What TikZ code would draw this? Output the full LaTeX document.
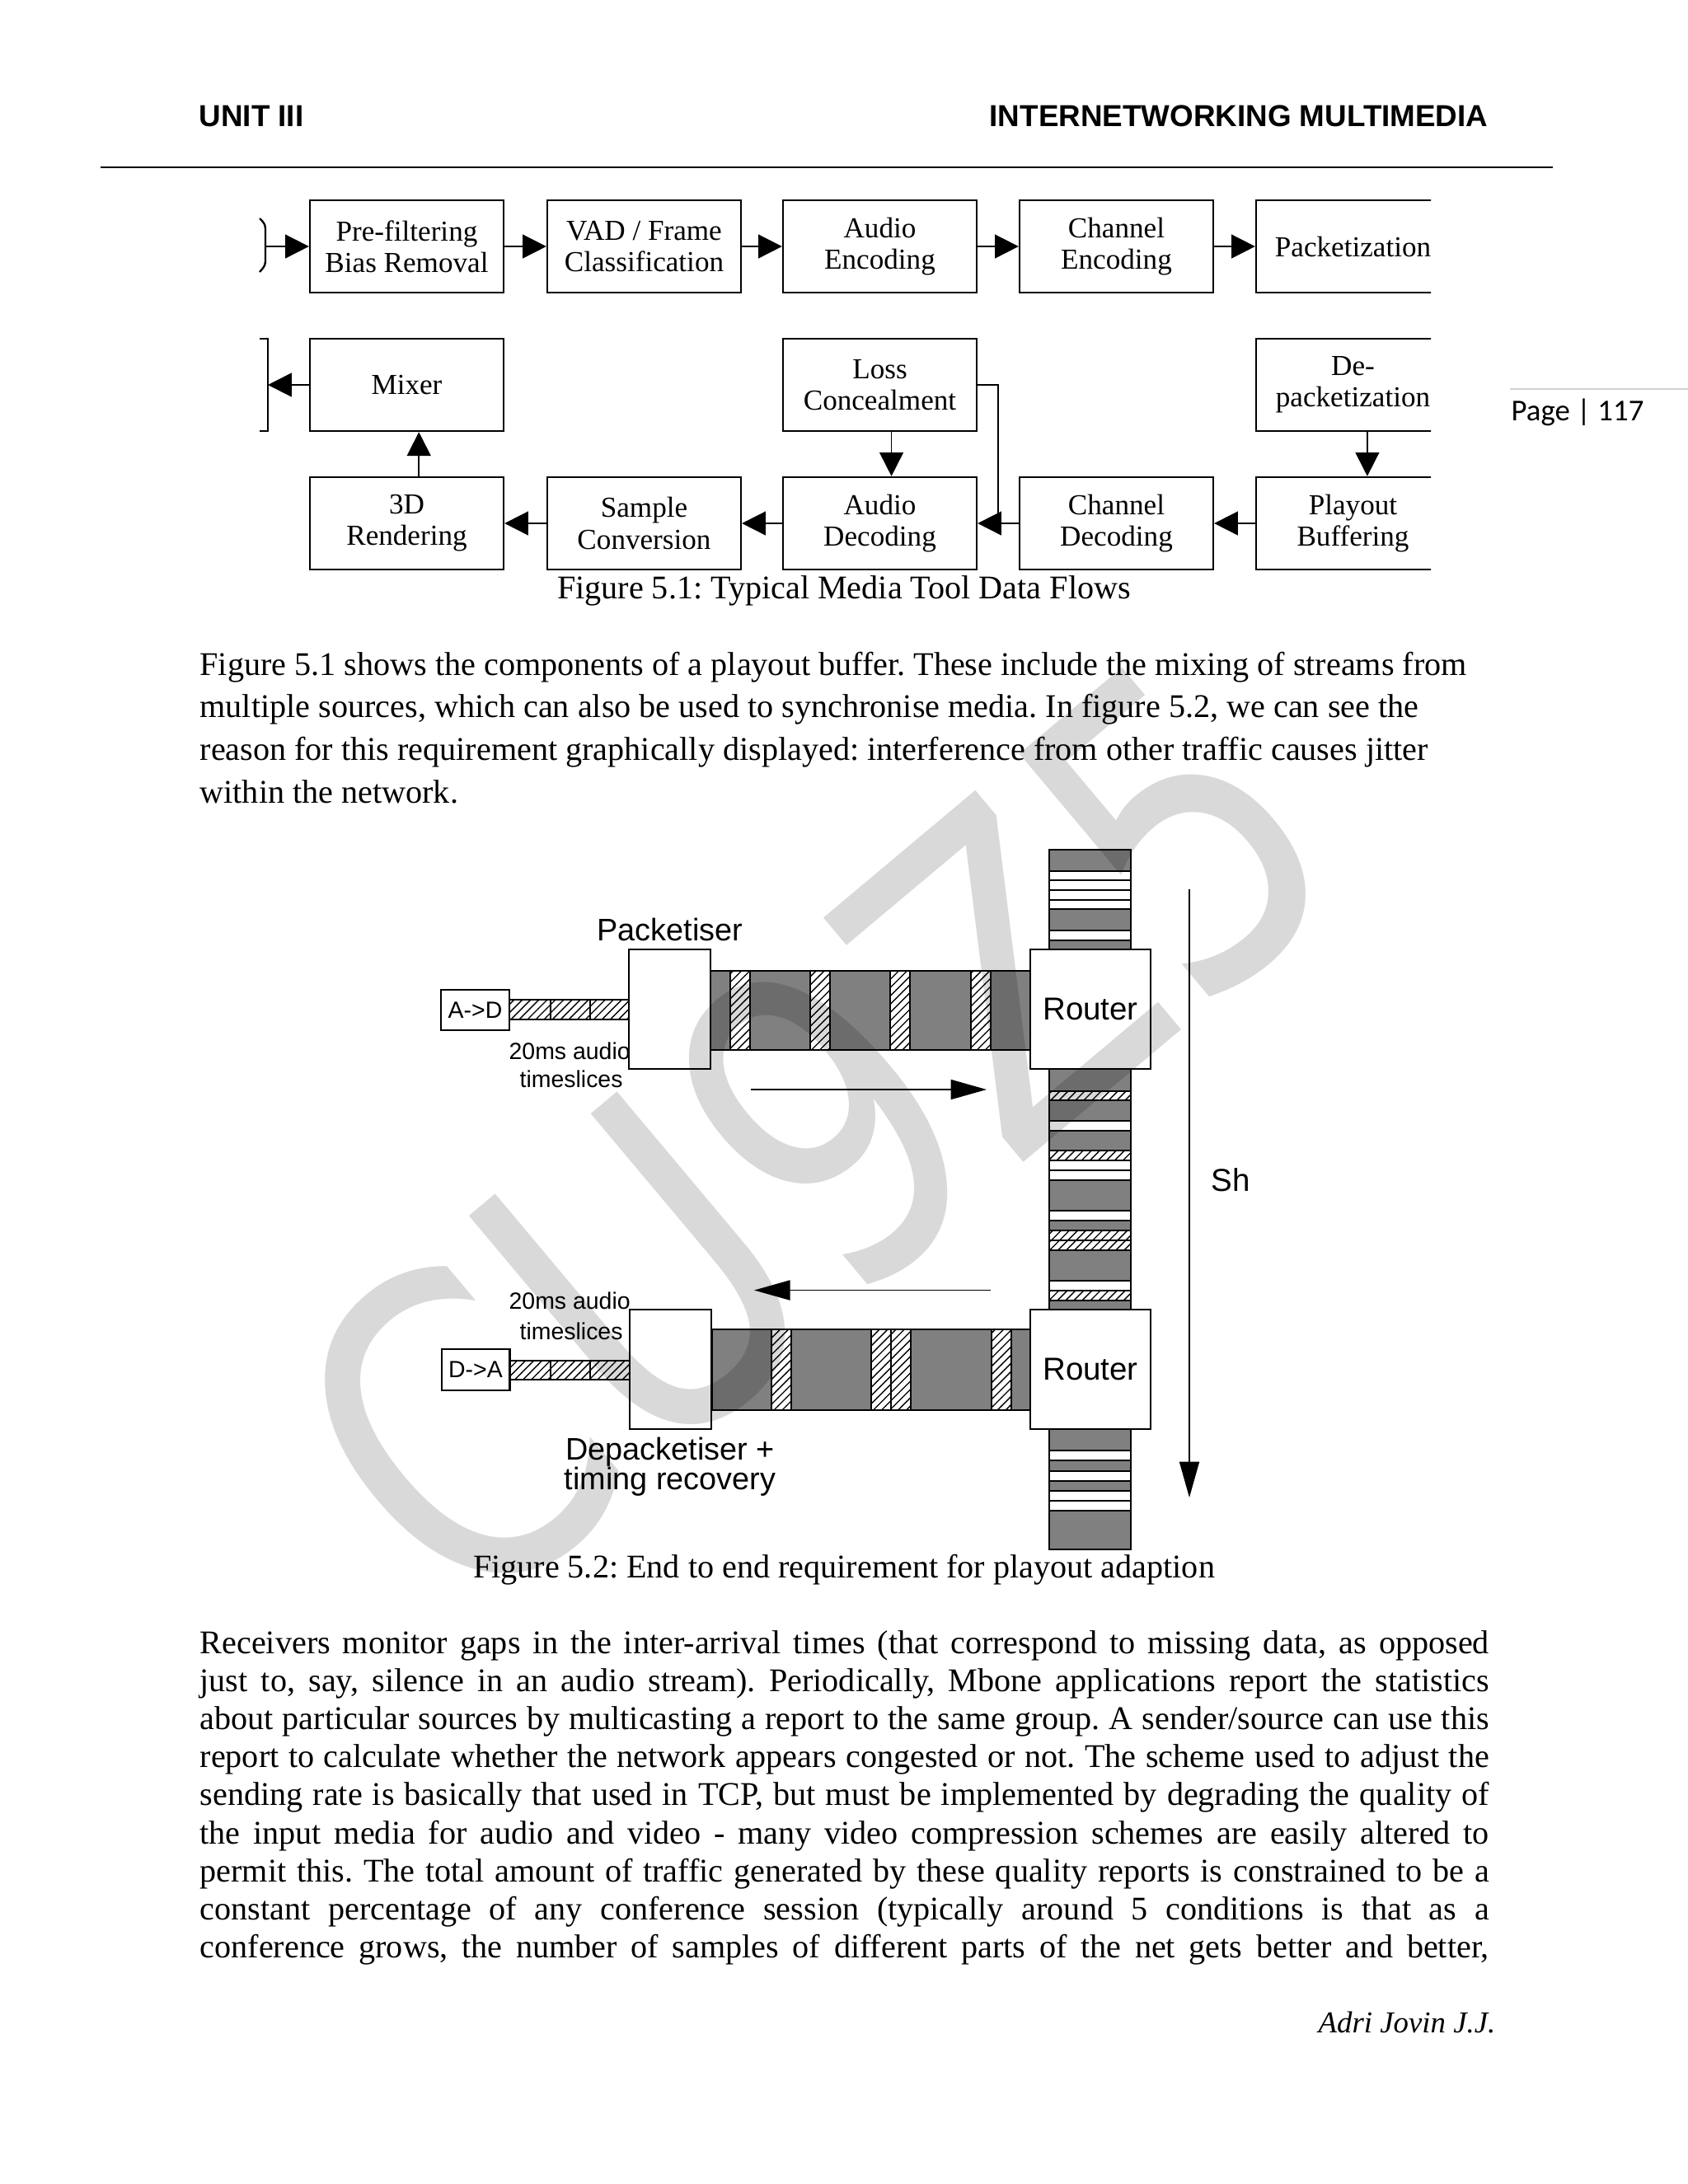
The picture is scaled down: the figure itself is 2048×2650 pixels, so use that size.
\documentclass[tikz,border=0pt]{standalone}
\usepackage{fontspec}
\setmainfont{Liberation Serif}
\newfontfamily\arialf{Liberation Sans}
\newfontfamily\calibrif{Carlito}
\newfontfamily\wmfont{DejaVu Sans}
\usetikzlibrary{arrows.meta,patterns,calc}
\definecolor{pgray}{RGB}{128,128,128}
\frenchspacing
\tikzset{
  fbox/.style={draw, line width=0.7pt, fill=white, minimum width=70.2pt, minimum height=33.5pt,
    inner sep=0pt, align=center, font=\fontsize{10.5}{11.4}\selectfont},
  farr/.style={line width=0.55pt, -{Triangle[length=8.6pt,width=8.6pt]}},
  fline/.style={line width=0.55pt},
  body/.style={anchor=base west, inner sep=0pt, font=\fontsize{12}{14}\selectfont},
  bodyj/.style={anchor=base west, inner sep=0pt, font=\fontsize{12}{14}\selectfont},
  rbox/.style={draw, line width=0.6pt, fill=white, minimum width=43.6pt, minimum height=43.3pt,
    inner sep=0pt, font=\arialf\fontsize{11.5}{13}\selectfont},
  pbox/.style={draw, line width=0.6pt, fill=white, minimum width=29.6pt, minimum height=43.3pt, inner sep=0pt},
  sbox/.style={draw, line width=0.6pt, fill=white, minimum width=24.8pt, minimum height=14.9pt,
    inner sep=0pt, font=\arialf\fontsize{8.5}{10}\selectfont},
  biglab/.style={anchor=base, inner sep=0pt, font=\arialf\fontsize{11.3}{13}\selectfont},
  smalllab/.style={anchor=base west, inner sep=0pt, font=\arialf\fontsize{8.5}{10}\selectfont},
  hatch/.style={preaction={fill=white}, pattern=north east lines, draw, line width=0.5pt},
  wstripe/.style={fill=white, draw, line width=0.5pt},
  barr/.style={line width=0.5pt, -{Triangle[length=13pt,width=7.2pt]}},
}
\begin{document}
\begin{tikzpicture}[x=0.29883pt, y=-0.29883pt]
\useasboundingbox (0,0) rectangle (2048,2650);
\fill[white] (0,0) rectangle (2048,2650);

% ---------- header ----------
\node[anchor=base west, inner sep=0pt, font=\arialf\bfseries\fontsize{11}{13}\selectfont] (unit) at (241,153) {UNIT III};
\node[anchor=base east, inner sep=0pt, font=\arialf\bfseries\fontsize{11}{13}\selectfont] (title) at (1806,153) {INTERNETWORKING MULTIMEDIA};
\draw[line width=0.8pt] (122,203) -- (1884,203);
\draw[black!18, line width=0.5pt] (1832,472) -- (2048,472);
\node[anchor=base west, inner sep=0pt, font=\calibrif\fontsize{11}{13}\selectfont] (pg) at (1833,510) {Page | 117};

% ---------- figure 5.1 ----------
\begin{scope}
\clip (0,220) rectangle (1736,705);
\node[fbox] (pre) at (493.5,299) {Pre-filtering\\Bias Removal};
\node[fbox] (vad) at (781.5,299) {VAD / Frame\\Classification};
\node[fbox] (aenc) at (1067.5,299) {Audio\\Encoding};
\node[fbox] (cenc) at (1354.5,299) {Channel\\Encoding};
\node[fbox] (pack) at (1641.5,299) {Packetization};
\node[fbox] (mix) at (493.5,467) {Mixer};
\node[fbox] (loss) at (1067.5,467) {Loss\\Concealment};
\node[fbox] (depack) at (1641.5,467) {De-\\packetization};
\node[fbox] (rend) at (493.5,635) {3D\\Rendering};
\node[fbox] (samp) at (781.5,635) {Sample\\Conversion};
\node[fbox] (adec) at (1067.5,635) {Audio\\Decoding};
\node[fbox] (cdec) at (1354.5,635) {Channel\\Decoding};
\node[fbox] (play) at (1641.5,635) {Playout\\Buffering};
\end{scope}

\draw[line width=0.7pt] (315,265) .. controls (322,272) .. (322,283) -- (322,313) .. controls (322,322) .. (315,330);
\coordinate (inL) at (322,299);
\draw[line width=0.7pt] (315,411) -- (325,411) -- (325,523) -- (315,523);
\coordinate (outL) at (325,467);

\draw[farr] (inL) -- (pre.west);
\draw[farr] (pre.east) -- (vad.west);
\draw[farr] (vad.east) -- (aenc.west);
\draw[farr] (aenc.east) -- (cenc.west);
\draw[farr] (cenc.east) -- (pack.west);
\draw[farr] (mix.west) -- (outL);
\draw[farr] (play.west) -- (cdec.east);
\draw[farr] (cdec.west) -- (adec.east);
\draw[farr] (adec.west) -- (samp.east);
\draw[farr] (samp.west) -- (rend.east);
\draw[farr] ([xshift=4.4pt]rend.north) -- ([xshift=4.4pt]mix.south);
\draw[farr] ([xshift=4.2pt]loss.south) -- ([xshift=4.2pt]adec.north);
\draw[farr] ([xshift=5.2pt]depack.south) -- ([xshift=5.2pt]play.north);
\coordinate (lj) at (1211,635);
\draw[fline] (loss.east) -| (lj);

\node[anchor=base, inner sep=0pt, font=\fontsize{12}{14}\selectfont] (cap1) at (1024,726) {Figure 5.1: Typical Media Tool Data Flows};

% ---------- paragraph 1 ----------
\node[body] (p1a) at (242,819) {Figure 5.1 shows the components of a playout buffer. These include the mixing of streams from};
\node[body] (p1b) at (242,870.7) {multiple sources, which can also be used to synchronise media. In figure 5.2, we can see the};
\node[body] (p1c) at (242,922.4) {reason for this requirement graphically displayed: interference from other traffic causes jitter};
\node[body] (p1d) at (242,974.1) {within the network.};

% ---------- figure 5.2 ----------
\draw[fill=pgray, line width=0.6pt] (1273,1031) rectangle (1372,1880);
\foreach \a/\b in {1057/1068,1068/1080,1080/1092,1092/1103,1129/1141,
                   1360/1372,1408/1420,1420/1432,1469/1481,1554/1566,
                   1760/1772,1785/1797,1809/1821,1821/1833}
  \draw[wstripe] (1273,\a) rectangle (1372,\b);
\foreach \a/\b in {1324/1335,1396/1408,1493/1505,1505/1517,1566/1578}
  \draw[hatch] (1273,\a) rectangle (1372,\b);

\draw[fill=pgray, line width=0.6pt] (862,1178) rectangle (1252,1274);
\foreach \a in {886,983,1080,1178}
  \draw[hatch] (\a,1178) rectangle ({\a+24},1274);
\draw[fill=pgray, line width=0.6pt] (864,1613) rectangle (1252,1711);
\foreach \a in {936,1057,1081,1203}
  \draw[hatch] (\a,1613) rectangle ({\a+24},1711);

\foreach \a/\b in {618/668,668/716,716/764}{
  \draw[hatch] (\a,1213) rectangle (\b,1237);
  \draw[hatch] (\a,1651) rectangle (\b,1674);
}

\node[smalllab] (ms1) at (617,1285) {20ms audio};
\node[smalllab] (ts1) at (630,1319) {timeslices};
\node[smalllab] (ms2) at (617,1588) {20ms audio};
\node[smalllab] (ts2) at (630,1625) {timeslices};

\node[pbox] (pk) at (812.5,1224.5) {};
\node[pbox] (dpk) at (813.5,1661.5) {};
\node[rbox] (r1) at (1323,1224.5) {Router};
\node[rbox] (r2) at (1323,1661.5) {Router};
\node[sbox] (ad) at (576.5,1225.5) {A->D};
\node[sbox] (da) at (577,1662) {D->A};

\node[biglab] (pklab) at (813,1141) {Packetiser};
\node[biglab] (dpklab) at (813,1771) {Depacketiser +};
\node[biglab] (trlab) at (813,1807) {timing recovery};

\coordinate (ra1) at (911,1322);
\coordinate (ra2) at (1197,1322);
\draw[barr] (ra1) -- (ra2);
\coordinate (la1) at (1202,1565.5);
\coordinate (la2) at (915,1565.5);
\draw[barr] (la1) -- (la2);
\coordinate (sh1) at (1443,1079);
\coordinate (sh2) at (1443,1817);
\draw[barr] (sh1) -- (sh2);
\node[anchor=base west, inner sep=0pt, font=\arialf\fontsize{11.5}{13}\selectfont] (shlab) at (1469,1445) {Sh};

\node[anchor=base, inner sep=0pt, font=\fontsize{12}{14}\selectfont] (cap2) at (1024,1914) {Figure 5.2: End to end requirement for playout adaption};

% ---------- paragraph 2 ----------
\node[bodyj] (p2a) at (242,2006) {\makebox[467.4pt][s]{Receivers monitor gaps in the inter-arrival times (that correspond to missing data, as opposed}};
\node[bodyj] (p2b) at (242,2052.2) {\makebox[467.4pt][s]{just to, say, silence in an audio stream). Periodically, Mbone applications report the statistics}};
\node[bodyj] (p2c) at (242,2098.4) {\makebox[467.4pt][s]{about particular sources by multicasting a report to the same group. A sender/source can use this}};
\node[bodyj] (p2d) at (242,2144.6) {\makebox[467.4pt][s]{report to calculate whether the network appears congested or not. The scheme used to adjust the}};
\node[bodyj] (p2e) at (242,2190.8) {\makebox[467.4pt][s]{sending rate is basically that used in TCP, but must be implemented by degrading the quality of}};
\node[bodyj] (p2f) at (242,2237) {\makebox[467.4pt][s]{the input media for audio and video - many video compression schemes are easily altered to}};
\node[bodyj] (p2g) at (242,2283.2) {\makebox[467.4pt][s]{permit this. The total amount of traffic generated by these quality reports is constrained to be a}};
\node[bodyj] (p2h) at (242,2329.4) {\makebox[467.4pt][s]{constant percentage of any conference session (typically around 5 conditions is that as a}};
\node[bodyj] (p2i) at (242,2375.6) {\makebox[467.4pt][s]{conference grows, the number of samples of different parts of the net gets better and better,}};

\node[anchor=base west, inner sep=0pt, font=\itshape\fontsize{11}{13}\selectfont] (sig) at (1599,2466) {Adri Jovin J.J.};

% ---------- watermark ----------
\node[rotate=40, xscale=0.8, text=black, text opacity=0.15, inner sep=0pt, font=\wmfont\fontsize{157}{157}\selectfont] (wm) at (985,1377) {CU9Z5};
\end{tikzpicture}
\end{document}
